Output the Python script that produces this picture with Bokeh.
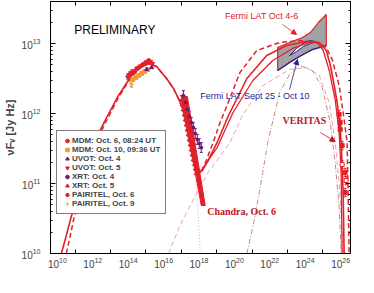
import numpy as np
from bokeh.plotting import figure
from bokeh.models import (Range1d, LogAxis, FixedTicker, LogTickFormatter, CustomJSTickFormatter,
                          Legend, LegendItem, ColumnDataSource, Whisker, TeeHead, Arrow,
                          NormalHead, Label)
from bokeh.embed import file_html
from bokeh.resources import INLINE

# ---------------- data: log10(nu [Hz]) and log10(nuFnu [Jy Hz]) ----------------
# full model, solid
solid_lognu = [10.224, 10.504, 10.785, 11.401, 12.074, 12.635, 13.419, 14.148, 14.709, 15.157,
               15.605, 16.166, 16.558, 16.839, 17.119, 17.343, 17.511, 17.679, 17.848, 18.016,
               18.184, 18.520, 19.025, 19.641, 20.706, 21.827, 22.948, 24.070, 24.798, 25.191,
               25.415, 25.639, 25.807, 25.919, 26.031, 26.144, 26.200]
solid_logf = [10.0, 10.257, 10.529, 11.014, 11.586, 11.871, 12.243, 12.529, 12.657, 12.714,
              12.671, 12.5, 12.357, 12.214, 12.043, 11.843, 11.614, 11.4, 11.243, 11.157,
              11.186, 11.329, 11.586, 11.957, 12.5, 12.829, 12.971, 13.029, 13.014, 12.9,
              12.7, 12.4, 12.157, 11.914, 11.586, 10.871, 10.0]
# full model, dashed
dashed_lognu = [10.504, 10.729, 10.953, 11.513, 12.074, 12.635, 13.419, 14.148, 14.709, 15.157,
                15.605, 16.166, 16.558, 16.839, 17.119, 17.399, 17.623, 17.848, 18.016, 18.184,
                18.408, 18.800, 19.193, 19.585, 20.314, 21.267, 22.556, 23.677, 24.630, 25.191,
                25.527, 25.919, 26.200, 26.368, 26.424, 26.480]
dashed_logf = [10.0, 10.257, 10.529, 10.986, 11.514, 11.829, 12.214, 12.514, 12.657, 12.714,
               12.671, 12.5, 12.357, 12.214, 12.043, 11.757, 11.471, 11.271, 11.186, 11.2,
               11.329, 11.586, 11.871, 12.114, 12.586, 12.9, 13.014, 13.043, 13.014, 12.943,
               12.771, 12.4, 11.914, 11.586, 10.871, 10.0]
# second solid model (high-energy hump)
solid2_lognu = [18.016, 18.352, 19.025, 19.922, 21.043, 22.164, 23.285, 24.238, 24.686, 25.022,
                25.359, 25.695, 25.919, 26.031, 26.087]
solid2_logf = [11.143, 11.271, 11.514, 12.014, 12.471, 12.757, 12.929, 13.014, 13.014, 12.9,
               12.614, 12.2, 11.729, 11.157, 10.0]
# components
syn_lognu = [17.119, 17.399, 17.623, 17.848, 17.960, 18.072]
syn_logf = [12.043, 11.729, 11.371, 10.971, 10.514, 10.0]
ssc_lognu = [16.278, 16.951, 17.679, 18.520, 19.753, 20.482, 21.603, 23.117, 24.070, 24.798,
             25.359, 25.695, 25.919, 26.087, 26.144]
ssc_logf = [10.0, 10.414, 10.771, 11.157, 11.586, 11.986, 12.4, 12.629, 12.657, 12.543,
            12.157, 11.586, 11.014, 10.3, 10.0]
ec_lognu = [20.706, 21.155, 21.603, 21.883, 22.556, 23.117, 23.677, 24.406, 24.966, 25.415,
            25.695, 25.919, 26.031]
ec_logf = [10.0, 10.514, 11.157, 11.586, 12.3, 12.557, 12.686, 12.614, 12.371, 11.871,
           11.3, 10.657, 10.0]
# Fermi LAT butterflies
lat46_lognu = [22.444, 23.117, 23.845, 24.294, 24.742, 25.191, 25.191, 24.406, 23.677, 23.117, 22.444]
lat46_logf = [12.943, 13.014, 13.086, 13.157, 13.3, 13.414, 12.971, 12.914, 12.814, 12.729, 12.614]
latlong_edge_lognu = [22.444, 23.117, 23.677, 24.406, 25.191]
latlong_edge_logf = [12.614, 12.729, 12.814, 12.914, 12.971]
latlong_lognu = [23.117, 23.509, 23.901, 24.294, 24.574, 24.294, 23.901, 23.509]
latlong_logf = [12.829, 12.929, 13.0, 13.043, 13.029, 13.0, 12.957, 12.886]
# Chandra band
chandra_lognu = [17.007, 17.343, 18.352, 18.128]
chandra_logf = [12.243, 12.243, 10.686, 10.686]
# observations
mdm6_lognu = [14.148, 14.316, 14.484, 14.652, 14.821, 14.989, 15.157]
mdm6_logf = [12.571, 12.6, 12.643, 12.671, 12.7, 12.729, 12.757]
mdm10_lognu = [14.260, 14.428, 14.596, 14.765, 14.933, 15.101]
mdm10_logf = [12.486, 12.514, 12.543, 12.571, 12.6, 12.629]
uvot4_lognu = [15.045, 15.325]
uvot4_logf = [12.629, 12.657]
uvot5_lognu = [15.101, 15.269, 15.381]
uvot5_logf = [12.729, 12.743, 12.714]
xrt4_lognu = [17.119, 17.231, 17.343, 17.455, 17.567, 17.679, 17.791, 17.904, 18.016, 18.128]
xrt4_logf = [12.257, 12.157, 12.057, 11.957, 11.871, 11.8, 11.714, 11.629, 11.571, 11.514]
xrt5_lognu = [17.007, 17.063, 17.119, 17.175, 17.231, 17.287, 17.343, 17.399, 17.455, 17.511,
              17.567, 17.623, 17.679, 17.791]
xrt5_logf = [12.186, 12.114, 12.043, 11.971, 11.9, 11.829, 11.757, 11.686, 11.614, 11.543,
             11.471, 11.4, 11.329, 11.2]
pai6_lognu = [13.980, 14.092, 14.204]
pai6_logf = [12.529, 12.557, 12.586]
pai9_lognu = [14.148, 14.204]
pai9_logf = [12.43, 12.414]
veritas_lognu = [25.919, 25.975, 25.975, 26.087, 26.256, 26.256]
veritas_logf = [11.986, 11.871, 11.771, 11.543, 11.157, 10.871]
veritas_open_lognu = [26.087, 26.312]
veritas_open_logf = [11.271, 11.043]
xrt_err, veritas_err, pai_err = 0.07, 0.06, 0.04

# axes
x_label_exps = [10, 12, 14, 16, 18, 20, 22, 24, 26]
x_tickmark_exps = [11, 13, 15, 17, 19, 21, 23, 25]
y_label_exps = [10, 11, 12, 13]

RED = "#e3202a"
ORANGE = "#f39a2e"
PURPLE = "#6a1f6a"
BLUE = "#24248e"
PINK = "#e9a3aa"
BROWN = "#c98585"
DARKRED = "#c0141e"
SANS = "Liberation Sans"
SERIF = "Liberation Serif"


def pw(a):
    return [float(10.0 ** v) for v in a]


p = figure(width=358, height=277, x_axis_type="log", y_axis_type="log",
           x_range=Range1d(10 ** 9.61, 10 ** 26.56), y_range=Range1d(1e10, 10 ** 13.6),
           output_backend="svg", toolbar_location=None,
           min_border_left=48, min_border_right=8, min_border_top=1, min_border_bottom=24)
p.xgrid.visible = False
p.ygrid.visible = False
p.outline_line_color = "black"
p.background_fill_color = "white"
p.border_fill_color = "white"

xt = FixedTicker(ticks=pw(x_label_exps), minor_ticks=pw(x_tickmark_exps))
ymin = [m * 10.0 ** e for e in (10, 11, 12, 13) for m in range(2, 10) if m * 10.0 ** e < 10 ** 13.6]
yt = FixedTicker(ticks=pw(y_label_exps), minor_ticks=ymin)

xa = p.xaxis[0]
xa.ticker = xt
xa.formatter = LogTickFormatter()
xa.major_tick_in = 0
xa.major_tick_out = 0
xa.minor_tick_in = 4
xa.minor_tick_out = 0
xa.major_label_text_font = SANS
xa.major_label_text_font_size = "10px"
xa.major_label_standoff = 3
xa.axis_line_color = "black"

ya = p.yaxis[0]
ya.ticker = yt
ya.formatter = LogTickFormatter()
ya.major_tick_in = 5
ya.major_tick_out = 0
ya.minor_tick_in = 2
ya.minor_tick_out = 0
ya.major_label_text_font = SANS
ya.major_label_text_font_size = "10px"
ya.major_label_standoff = 10
ya.axis_label = "\u03bdF\u1d65 [Jy Hz]"
ya.axis_label_text_font = SANS
ya.axis_label_text_font_style = "bold"
ya.axis_label_text_font_size = "11px"
ya.axis_label_standoff = 3

blank = CustomJSTickFormatter(code="return ''")
ra = LogAxis(ticker=yt, formatter=blank, major_tick_in=5, major_tick_out=0, minor_tick_in=2,
             minor_tick_out=0, major_label_standoff=0, major_label_text_font_size="0px")
p.add_layout(ra, "right")
ta = LogAxis(ticker=xt, formatter=blank, major_tick_in=0, major_tick_out=0, minor_tick_in=4,
             minor_tick_out=0, major_label_standoff=0, major_label_text_font_size="0px")
p.add_layout(ta, "above")

# Fermi butterflies
p.patch(pw(lat46_lognu), pw(lat46_logf), fill_color="#a2a2a2", line_color=RED, line_width=1.2)
p.patch(pw(latlong_lognu), pw(latlong_logf), fill_color="white", line_color=BLUE, line_width=1)
p.line(pw(latlong_edge_lognu), pw(latlong_edge_logf), line_color=BLUE, line_width=1.3)

# components
p.line(pw(syn_lognu), pw(syn_logf), line_color=PINK, line_width=1, line_dash="1 2")
p.line(pw(ssc_lognu), pw(ssc_logf), line_color=PINK, line_width=1, line_dash="5 3")
p.line(pw(ec_lognu), pw(ec_logf), line_color=BROWN, line_width=1, line_dash="5 2 1 2")

# models
p.line(pw(solid2_lognu), pw(solid2_logf), line_color=RED, line_width=1.3)
p.line(pw(dashed_lognu), pw(dashed_logf), line_color=RED, line_width=1.5, line_dash="5 3")
p.line(pw(solid_lognu), pw(solid_logf), line_color=RED, line_width=1.6)

# Chandra band
p.patch(pw(chandra_lognu), pw(chandra_logf), fill_color=RED, line_color=RED, line_width=1)


def errs(lognu, logf, e, color):
    src = ColumnDataSource(dict(x=pw(lognu), lo=pw([v - e for v in logf]), hi=pw([v + e for v in logf])))
    w = Whisker(source=src, base="x", lower="lo", upper="hi", dimension="height",
                line_color=color, line_width=1,
                lower_head=TeeHead(size=3, line_color=color, line_width=1),
                upper_head=TeeHead(size=3, line_color=color, line_width=1))
    p.add_layout(w)


errs(xrt5_lognu, xrt5_logf, xrt_err, RED)
errs(xrt4_lognu, xrt4_logf, xrt_err, PURPLE)
errs(veritas_lognu, veritas_logf, veritas_err, RED)
errs(veritas_open_lognu, veritas_open_logf, veritas_err, RED)
errs(pai6_lognu, pai6_logf, pai_err, RED)
errs(pai9_lognu, pai9_logf, pai_err, ORANGE)

r_mdm6 = p.scatter(pw(mdm6_lognu), pw(mdm6_logf), marker="circle", size=4, color=RED)
r_mdm10 = p.scatter(pw(mdm10_lognu), pw(mdm10_logf), marker="square", size=4, color=ORANGE)
r_uvot4 = p.scatter(pw(uvot4_lognu), pw(uvot4_logf), marker="triangle", size=4, color=PURPLE)
r_uvot5 = p.scatter(pw(uvot5_lognu), pw(uvot5_logf), marker="inverted_triangle", size=4, color=RED)
r_xrt4 = p.scatter(pw(xrt4_lognu), pw(xrt4_logf), marker="circle", size=3, color=PURPLE)
r_xrt5 = p.scatter(pw(xrt5_lognu), pw(xrt5_logf), marker="triangle", angle=np.pi / 2, size=4, color=RED)
r_pai6 = p.scatter(pw(pai6_lognu), pw(pai6_logf), marker="hex", size=4, color=RED)
r_pai9 = p.scatter(pw(pai9_lognu), pw(pai9_logf), marker="cross", size=4, color="#e8b060", line_width=1)
p.scatter(pw(veritas_lognu), pw(veritas_logf), marker="square", size=4, color=RED)
p.scatter(pw(veritas_open_lognu), pw(veritas_open_logf), marker="square", size=4,
          fill_color="white", line_color=RED)

legend = Legend(items=[
    LegendItem(label="MDM: Oct. 6, 08:24 UT", renderers=[r_mdm6]),
    LegendItem(label="MDM: Oct. 10, 09:36 UT", renderers=[r_mdm10]),
    LegendItem(label="UVOT: Oct. 4", renderers=[r_uvot4]),
    LegendItem(label="UVOT: Oct. 5", renderers=[r_uvot5]),
    LegendItem(label="XRT: Oct. 4", renderers=[r_xrt4]),
    LegendItem(label="XRT: Oct. 5", renderers=[r_xrt5]),
    LegendItem(label="PAIRITEL, Oct. 6", renderers=[r_pai6]),
    LegendItem(label="PAIRITEL, Oct. 9", renderers=[r_pai9]),
], location=(6, 39), border_line_color="black", border_line_width=1,
    background_fill_color="white", background_fill_alpha=1.0,
    label_text_font=SANS, label_text_font_style="bold", label_text_font_size="8px",
    glyph_width=10, glyph_height=9, label_height=9, label_standoff=0, spacing=0,
    padding=5, margin=0)
p.add_layout(legend)

# annotations
p.add_layout(Label(x=10 ** 10.953, y=10 ** 13.186, text="PRELIMINARY", text_font=SANS,
                   text_font_size="12px", text_color="black", text_baseline="middle"))
p.add_layout(Label(x=10 ** 19.473, y=10 ** 13.4, text="Fermi LAT Oct 4-6", text_font=SANS,
                   text_font_size="9px", text_color=RED, text_baseline="middle"))
p.add_layout(Label(x=10 ** 18.072, y=10 ** 12.257, text="Fermi LAT Sept 25 - Oct 10", text_font=SANS,
                   text_font_size="9px", text_color=BLUE, text_baseline="middle"))
p.add_layout(Label(x=10 ** 22.724, y=10 ** 11.9, text="VERITAS", text_font=SERIF, text_font_style="bold",
                   text_font_size="10px", text_color=DARKRED, text_baseline="middle"))
p.add_layout(Label(x=10 ** 18.464, y=10 ** 10.6, text="Chandra, Oct. 6", text_font=SERIF,
                   text_font_style="bold", text_font_size="10px", text_color=DARKRED,
                   text_baseline="middle"))

p.add_layout(Arrow(end=NormalHead(size=5, fill_color=RED, line_color=RED),
                   x_start=10 ** 22.724, y_start=10 ** 13.271, x_end=10 ** 23.509, y_end=10 ** 13.129,
                   line_color=RED, line_width=0.8))
p.add_layout(Arrow(end=NormalHead(size=5, fill_color=BLUE, line_color=BLUE),
                   x_start=10 ** 23.117, y_start=10 ** 12.343, x_end=10 ** 23.565, y_end=10 ** 12.771,
                   line_color=BLUE, line_width=0.8))
p.add_layout(Arrow(end=NormalHead(size=5, fill_color=DARKRED, line_color=DARKRED),
                   x_start=10 ** 24.854, y_start=10 ** 11.729, x_end=10 ** 25.695, y_end=10 ** 11.6,
                   line_color=DARKRED, line_width=0.8))

open("out.html", "w").write(file_html(p, INLINE))
